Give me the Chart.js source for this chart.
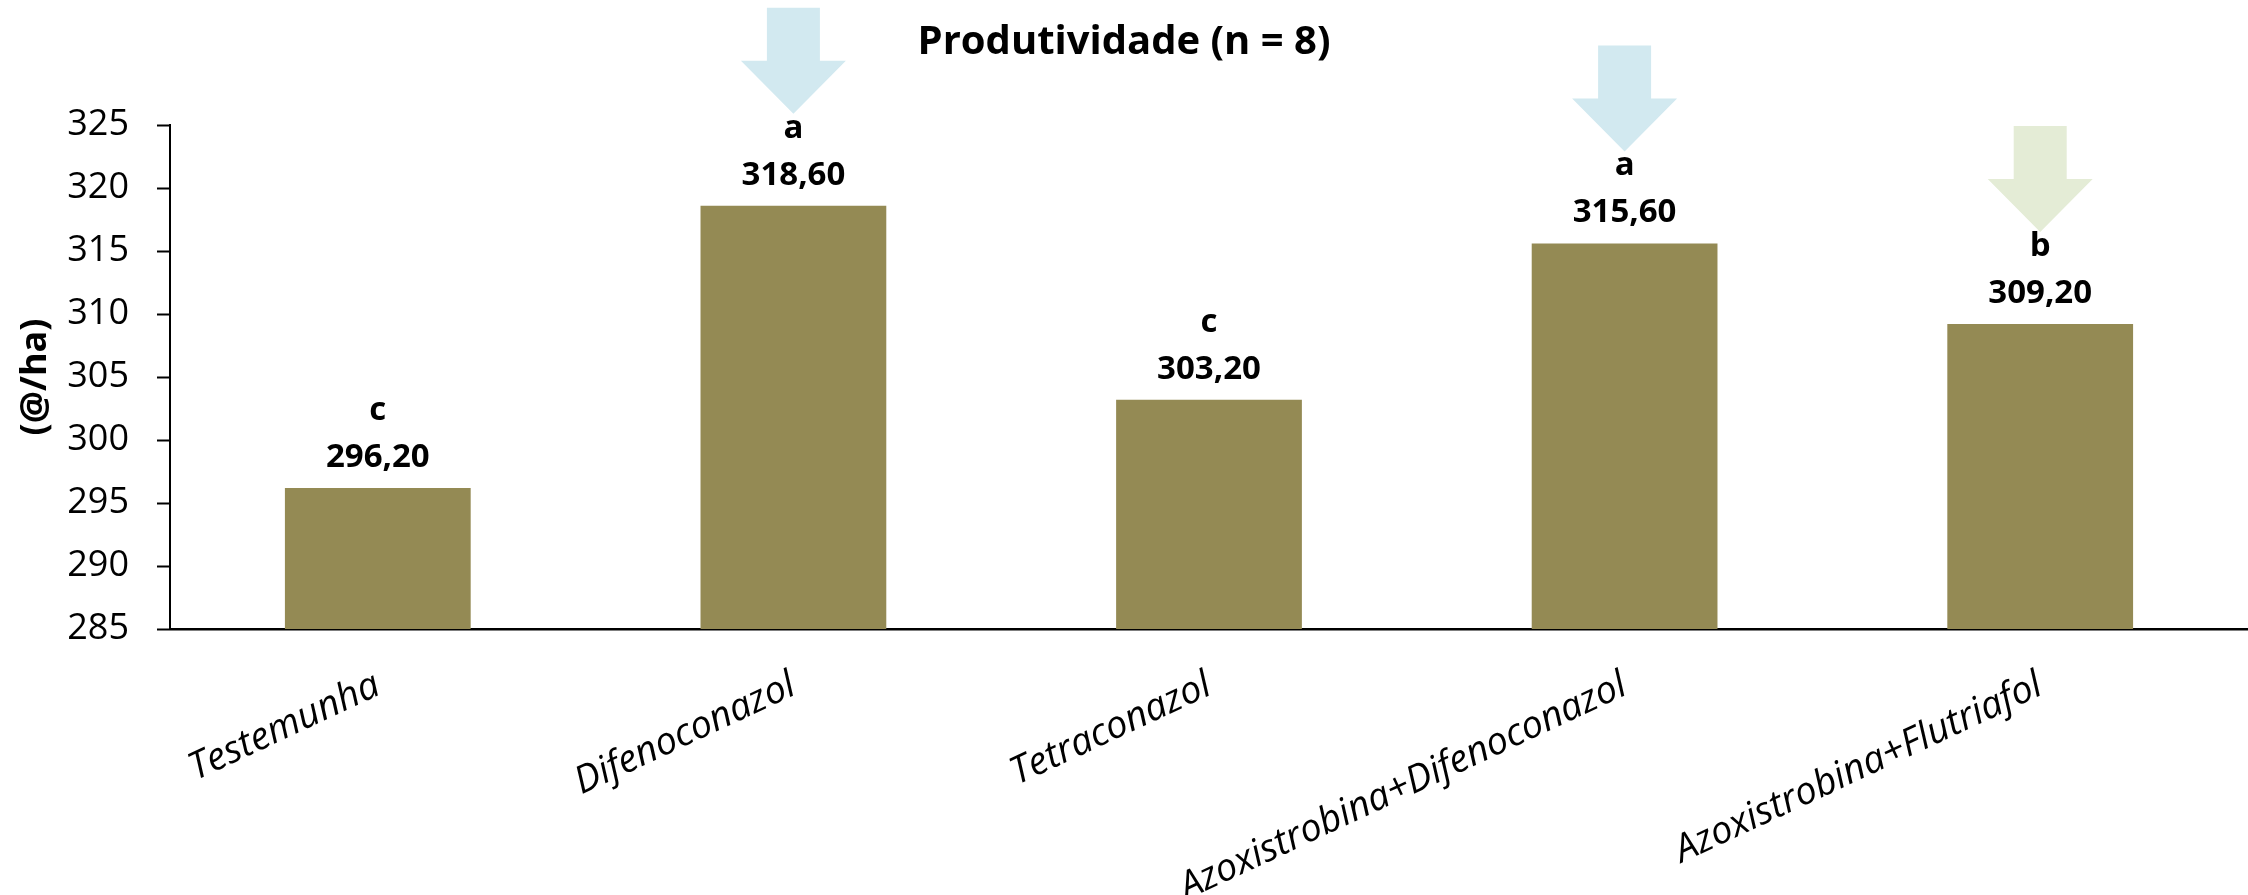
<!DOCTYPE html>
<html>
<head>
<meta charset="utf-8">
<script src="https://cdn.jsdelivr.net/npm/chart.js@4.4.1/dist/chart.umd.min.js"></script>
<style>
  html, body { margin: 0; padding: 0; background: #fff; }
  #wrap { width: 2248px; height: 895px; }
</style>
</head>
<body>
<div id="wrap"><canvas id="chart"></canvas></div>
<script>
"use strict";

// chart data
const categories = ['Testemunha', 'Difenoconazol', 'Tetraconazol', 'Azoxistrobina+Difenoconazol', 'Azoxistrobina+Flutriafol'];
const yields = [296.2, 318.6, 303.2, 315.6, 309.2];
const letters = ['c', 'a', 'c', 'a', 'b'];
const arrowColors = [null, '#D2E9F0', null, '#D2E9F0', '#E4ECD6'];
const yTicks = [285, 290, 295, 300, 305, 310, 315, 320, 325];

const FONT = "'Open Sans', 'DejaVu Sans', sans-serif";

// letters, values and arrows above bars
const barNotes = {
  id: 'barNotes',
  afterDatasetsDraw(chart) {
    const ctx = chart.ctx;
    const meta = chart.getDatasetMeta(0);
    ctx.save();
    ctx.fillStyle = '#000';
    ctx.textAlign = 'center';
    ctx.textBaseline = 'alphabetic';
    ctx.font = `bold 33px ${FONT}`;
    meta.data.forEach((bar, i) => {
      const x = bar.x, top = bar.y;
      ctx.fillText(yields[i].toFixed(2).replace('.', ','), x, top - 21);
      ctx.fillText(letters[i], x, top - 68);
      const col = arrowColors[i];
      if (!col) return;
      const tip = top - 92;
      ctx.fillStyle = col;
      ctx.beginPath();
      ctx.moveTo(x - 26.5, tip - 106);
      ctx.lineTo(x + 26.5, tip - 106);
      ctx.lineTo(x + 26.5, tip - 53);
      ctx.lineTo(x + 52.5, tip - 53);
      ctx.lineTo(x, tip);
      ctx.lineTo(x - 52.5, tip - 53);
      ctx.lineTo(x - 26.5, tip - 53);
      ctx.closePath();
      ctx.fill();
      ctx.fillStyle = '#000';
    });
    ctx.restore();
  }
};

new Chart(document.getElementById('chart'), {
  type: 'bar',
  data: {
    labels: categories,
    datasets: [{
      data: yields,
      backgroundColor: '#948A54',
      borderWidth: 0,
      categoryPercentage: 1,
      barPercentage: 0.447
    }]
  },
  options: {
    responsive: true,
    maintainAspectRatio: false,
    devicePixelRatio: 1,
    animation: false,
    layout: { padding: { left: 0, right: 0, top: 0, bottom: 0 } },
    plugins: {
      legend: { display: false },
      tooltip: { enabled: false },
      title: {
        display: true,
        text: 'Produtividade (n = 8)',
        color: '#000',
        font: { family: FONT, size: 40, weight: 'bold' },
        padding: { top: 19, bottom: 58 }
      }
    },
    scales: {
      x: {
        grid: { display: false, drawTicks: false },
        border: { display: true, color: '#000', width: 2.5 },
        ticks: {
          color: '#000',
          font: { family: FONT, size: 38, style: 'italic' },
          minRotation: 25,
          maxRotation: 25,
          autoSkip: false,
          padding: 34
        },
        afterFit(scale) { scale.height = 266; }
      },
      y: {
        min: 285,
        max: 325,
        afterBuildTicks(scale) { scale.ticks = yTicks.map(v => ({ value: v })); },
        grid: { drawOnChartArea: false, drawTicks: true, tickLength: 13, color: '#000', tickWidth: 2 },
        border: { display: true, color: '#000', width: 2 },
        ticks: {
          color: '#000',
          font: { family: FONT, size: 36 },
          padding: 28
        },
        title: {
          display: true,
          text: '(@/ha)',
          color: '#000',
          font: { family: FONT, size: 36, weight: 'bold' },
          padding: { top: 14, bottom: 0 }
        },
        afterFit(scale) { scale.width = 170; }
      }
    }
  },
  plugins: [barNotes]
});
</script>
</body>
</html>
